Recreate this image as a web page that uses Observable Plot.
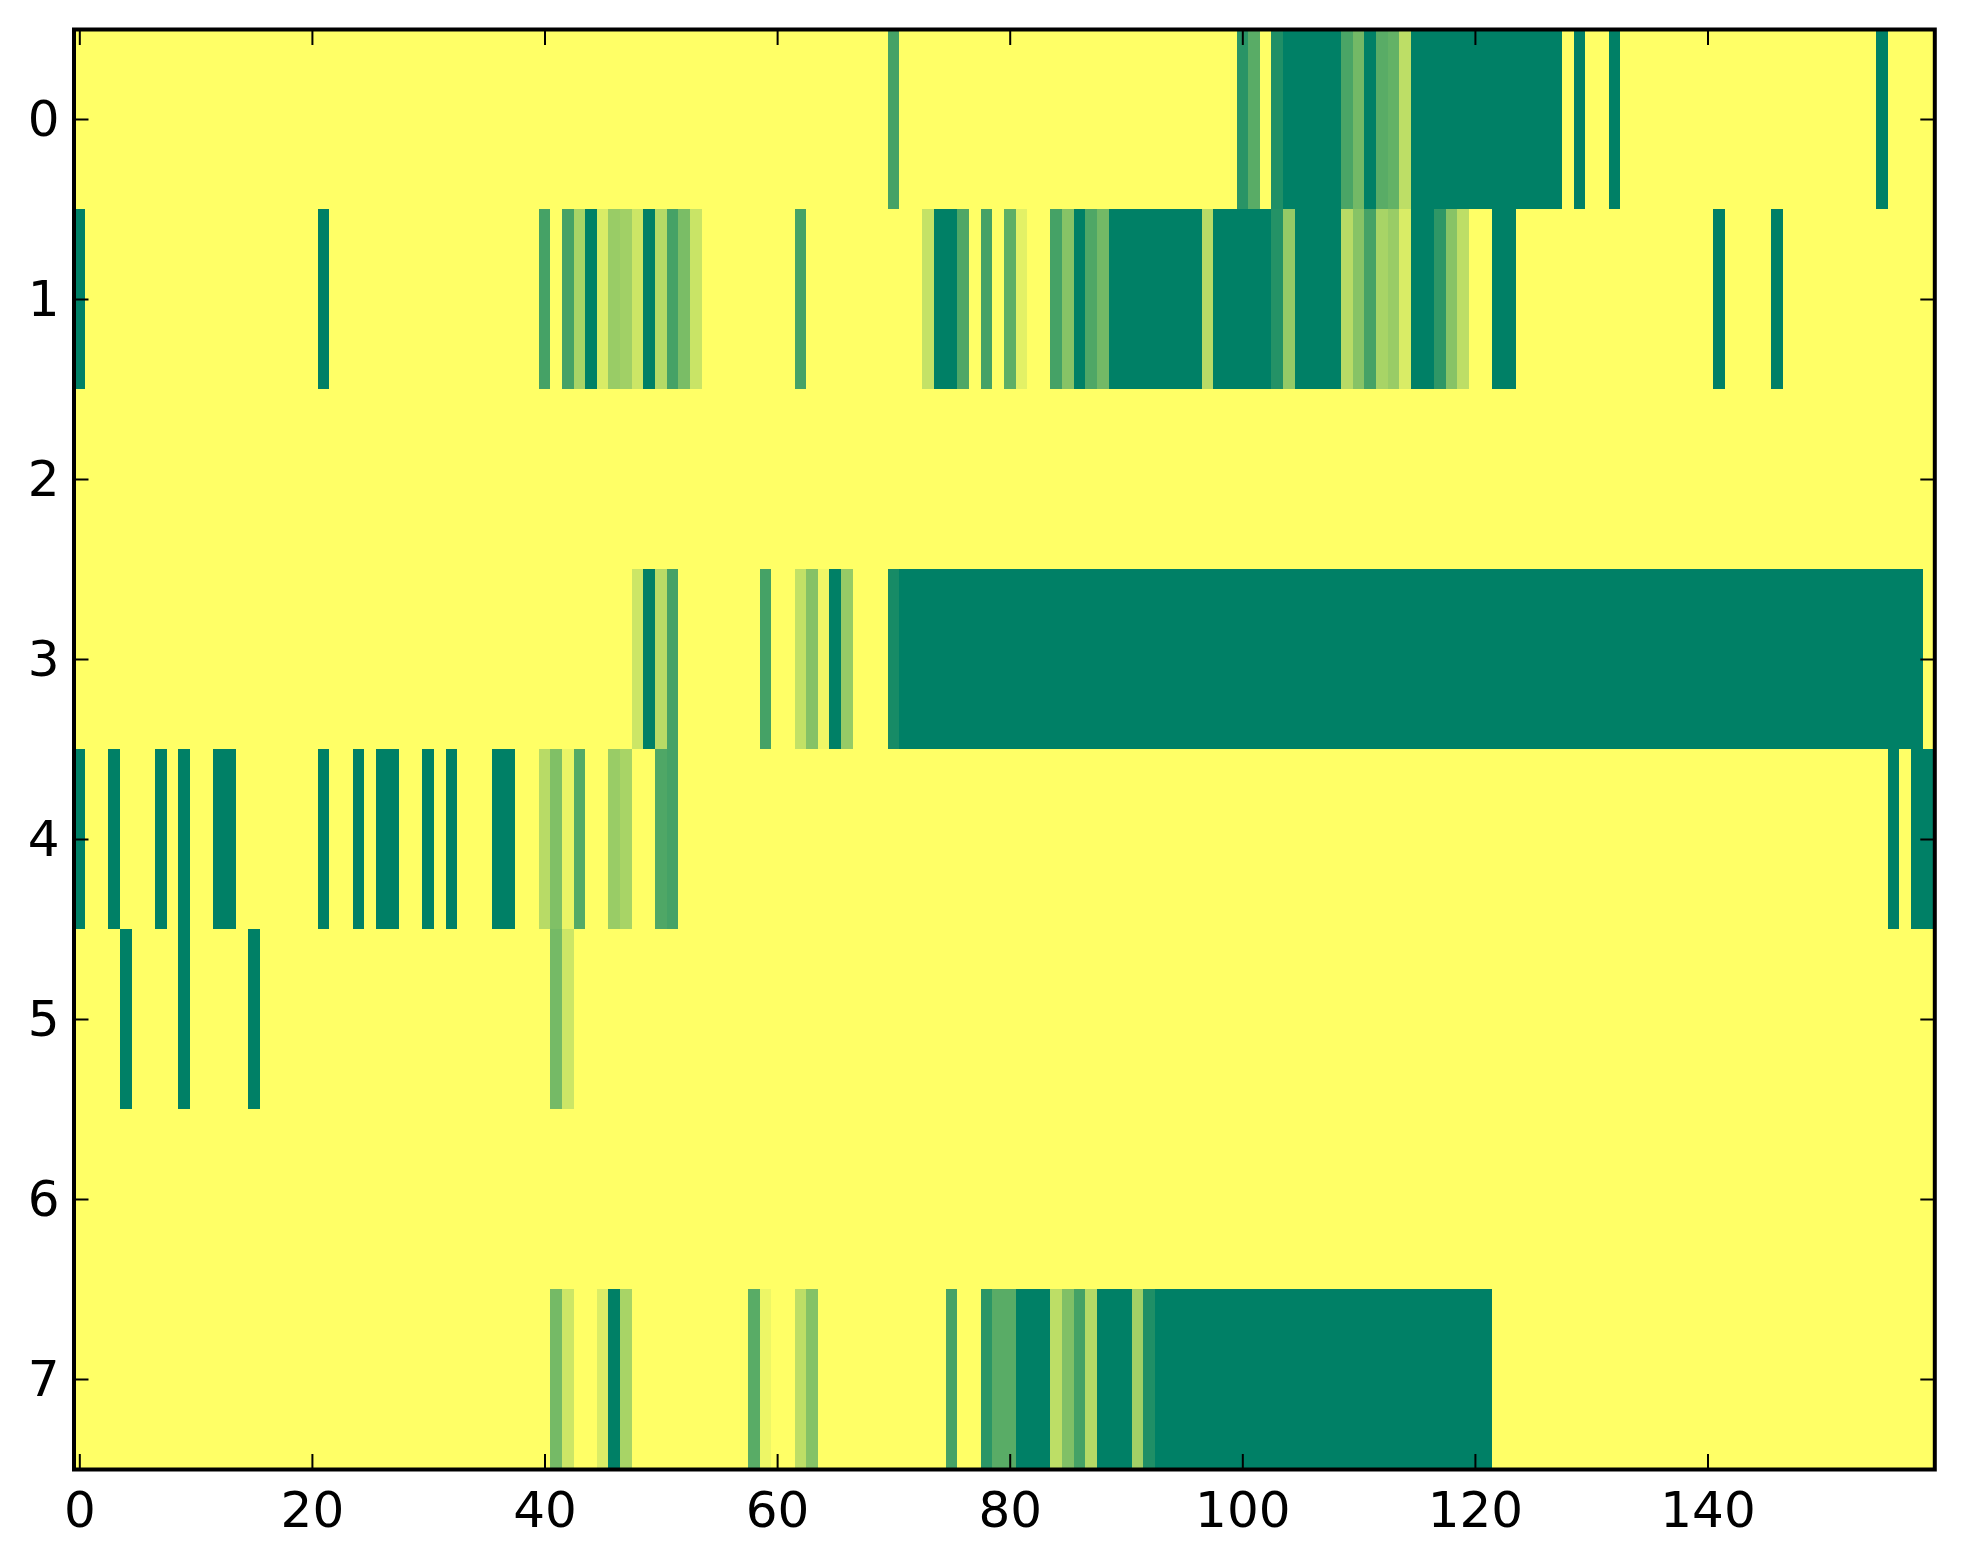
<!DOCTYPE html>
<html><head><meta charset="utf-8">
<script src="https://cdn.jsdelivr.net/npm/d3@7"></script>
<script src="https://cdn.jsdelivr.net/npm/@observablehq/plot@0.6"></script>
<style>html,body{margin:0;padding:0;background:#fff;} #chart svg{display:block;}</style>
</head><body><div id="chart"></div>
<script>
// Heatmap values (0 = yellow, 1 = dark green).
// Each row lists runs as [firstColumn, lastColumn, value]; all other cells are 0.
const nCols = 160;
const rowLabels = [0, 1, 2, 3, 4, 5, 6, 7];
const xTicks = [0, 20, 40, 60, 80, 100, 120, 140];

const row0 = [[70,70,0.73],[100,100,0.84],[101,101,0.65],[103,103,0.88],[104,108,1],[109,109,0.71],[110,110,0.55],[111,111,1],[112,112,0.65],[113,113,0.61],[114,114,0.26],[115,127,1],[129,129,1],[132,132,1],[155,155,1]];
const row1 = [[0,0,1],[21,21,1],[40,40,0.73],[42,42,0.73],[43,43,0.34],[44,44,1],[45,45,0.15],[46,46,0.40],[47,47,0.37],[48,48,0.20],[49,49,1],[50,50,0.29],[51,51,0.73],[52,52,0.52],[53,53,0.21],[62,62,0.73],[73,73,0.23],[74,75,1],[76,76,0.69],[78,78,0.73],[80,80,0.63],[81,81,0.11],[84,84,0.73],[85,85,0.47],[86,86,1],[87,87,0.69],[88,88,0.55],[89,96,1],[97,97,0.28],[98,102,1],[103,103,0.86],[104,104,0.42],[105,108,1],[109,109,0.28],[110,110,0.47],[111,111,0.73],[112,112,0.34],[113,113,0.40],[114,114,0.15],[115,116,1],[117,117,0.82],[118,118,0.47],[119,119,0.26],[122,123,1],[141,141,1],[146,146,1]];
const row2 = [];
const row3 = [[48,48,0.20],[49,49,1],[50,50,0.28],[51,51,0.73],[59,59,0.73],[62,62,0.24],[63,63,0.48],[64,64,0.06],[65,65,1],[66,66,0.41],[70,70,0.91],[71,158,1]];
const row4 = [[0,0,1],[3,3,1],[7,7,1],[9,9,1],[12,13,1],[21,21,1],[24,24,1],[26,27,1],[30,30,1],[32,32,1],[36,37,1],[40,40,0.28],[41,41,0.50],[42,42,0.08],[43,43,0.67],[46,46,0.40],[47,47,0.34],[50,50,0.69],[51,51,0.73],[156,156,1],[158,159,1]];
const row5 = [[4,4,1],[9,9,1],[15,15,1],[41,41,0.54],[42,42,0.20]];
const row6 = [];
const row7 = [[41,41,0.54],[42,42,0.20],[45,45,0.14],[46,46,1],[47,47,0.34],[58,58,0.65],[59,59,0.07],[62,62,0.26],[63,63,0.48],[75,75,0.73],[78,78,0.83],[79,80,0.65],[81,83,1],[84,84,0.26],[85,85,0.50],[86,86,0.73],[87,87,0.29],[88,90,1],[91,91,0.37],[92,92,0.88],[93,121,1]];

const rows = [row0, row1, row2, row3, row4, row5, row6, row7];

const cells = [];
rows.forEach((segs, r) => {
  const vals = new Array(nCols).fill(0);
  for (const [a, b, v] of segs) for (let c = a; c <= b; c++) vals[c] = v;
  vals.forEach((v, c) => cells.push({row: rowLabels[r], col: c, v}));
});

const tickOpts = {tickSize: -15, strokeWidth: 2, tickFormat: () => "", label: null};

const chart = Plot.plot({
  width: 1963,
  height: 1564,
  marginLeft: 73.5,
  marginRight: 28.7,
  marginTop: 29,
  marginBottom: 95,
  style: {fontFamily: "DejaVu Sans", fontSize: "50px", color: "black", background: "white"},
  x: {domain: [-0.5, nCols - 0.5]},
  y: {domain: [-0.5, rowLabels.length - 0.5], reverse: true},
  color: {type: "linear", domain: [0, 1], range: ["#ffff66", "#008066"], interpolate: "rgb"},
  marks: [
    Plot.rect(cells, {
      x1: d => d.col - 0.5, x2: d => d.col + 0.5,
      y1: d => d.row - 0.5, y2: d => d.row + 0.5,
      fill: "v", shapeRendering: "crispEdges"
    }),
    Plot.axisX({ticks: xTicks, anchor: "bottom", tickSize: 0, tickPadding: 21.5, fontSize: 50, label: null}),
    Plot.axisX({ticks: xTicks, anchor: "bottom", ...tickOpts}),
    Plot.axisX({ticks: xTicks, anchor: "top", ...tickOpts}),
    Plot.axisY({ticks: rowLabels, anchor: "left", tickSize: 0, tickPadding: 14.5, fontSize: 50, label: null}),
    Plot.axisY({ticks: rowLabels, anchor: "left", ...tickOpts}),
    Plot.axisY({ticks: rowLabels, anchor: "right", ...tickOpts}),
    Plot.frame({stroke: "black", strokeWidth: 4})
  ]
});
document.getElementById("chart").appendChild(chart);
</script>
</body></html>
